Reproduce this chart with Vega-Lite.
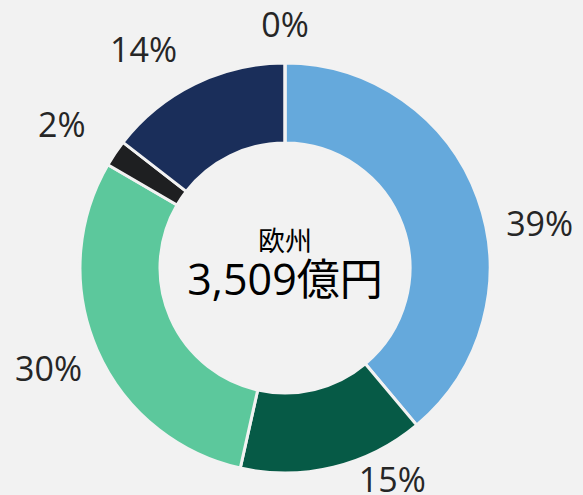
{
  "$schema": "https://vega.github.io/schema/vega-lite/v6.json",
  "width": 570,
  "height": 536,
  "autosize": {"type": "none"},
  "padding": {"left": 0, "top": 0, "right": 13, "bottom": 0},
  "background": "#f2f2f2",
  "config": {"view": {"stroke": null}},
  "data": {
    "values": [
      {"seg": "A", "value": 38.9, "label": "39%"},
      {"seg": "B", "value": 14.6, "label": "15%"},
      {"seg": "C", "value": 29.9, "label": "30%"},
      {"seg": "D", "value": 2.1, "label": "2%"},
      {"seg": "E", "value": 14.5, "label": "14%"},
      {"seg": "F", "value": 0, "label": "0%"}
    ]
  },
  "layer": [
    {
      "mark": {"type": "arc", "innerRadius": 125, "outerRadius": 205, "stroke": "#f2f2f2", "strokeWidth": 3},
      "encoding": {
        "theta": {"field": "value", "type": "quantitative", "stack": true},
        "order": {"field": "seg", "type": "ordinal"},
        "color": {
          "field": "seg",
          "type": "nominal",
          "scale": {"domain": ["A", "B", "C", "D", "E", "F"], "range": ["#65a9dc", "#065a46", "#5cc89c", "#1e1f21", "#1a2e5a", "#999999"]},
          "legend": null
        }
      }
    },
    {
      "mark": {
        "type": "text",
        "font": "Open Sans",
        "fontSize": 34,
        "color": "#262626",
        "align": "center",
        "baseline": "middle",
        "radius": {"expr": "datum.label=='15%'?239:datum.label=='0%'?241:datum.label=='2%'?264:258"},
        "thetaOffset": {"expr": "datum.label=='39%'?0.187:datum.label=='15%'?-0.227:datum.label=='14%'?-0.125:datum.label=='2%'?-0.03:0"}
      },
      "encoding": {
        "theta": {"field": "value", "type": "quantitative", "stack": true},
        "order": {"field": "seg", "type": "ordinal"},
        "text": {"field": "label"}
      }
    },
    {
      "data": {"values": [{"t": "欧州"}]},
      "mark": {"type": "text", "font": "Open Sans, Noto Sans CJK JP", "fontSize": 27, "color": "#000000", "align": "center", "baseline": "middle", "dy": -25},
      "encoding": {"text": {"field": "t"}}
    },
    {
      "data": {"values": [{"t": "3,509億円"}]},
      "mark": {"type": "text", "font": "Open Sans, Noto Sans CJK JP", "fontSize": 43, "color": "#000000", "align": "center", "baseline": "middle", "dy": 14},
      "encoding": {"text": {"field": "t"}}
    }
  ]
}
